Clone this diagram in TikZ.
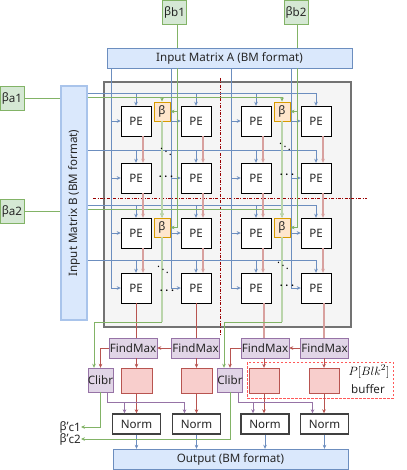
\documentclass[tikz,border=0pt]{standalone}
\usepackage{fontspec}
\setmainfont{Noto Sans}
\usetikzlibrary{arrows.meta,calc}
\definecolor{blfill}{HTML}{DAE8FC}
\definecolor{bldraw}{HTML}{6C8EBF}
\definecolor{blsoft}{HTML}{A9C4EB}
\definecolor{grfill}{HTML}{D5E8D4}
\definecolor{grdraw}{HTML}{82B366}
\definecolor{orfill}{HTML}{FFE6CC}
\definecolor{ordraw}{HTML}{D79B00}
\definecolor{pufill}{HTML}{E1D5E7}
\definecolor{pudraw}{HTML}{9673A6}
\definecolor{rdfill}{HTML}{F8CECC}
\definecolor{rddraw}{HTML}{B85450}
\definecolor{darkred}{HTML}{990000}

\begin{document}
\begin{tikzpicture}[x=1pt,y=-1pt,>={Stealth[length=4pt,width=3.6pt]},
  font=\fontsize{11.6}{13}\selectfont,
  box/.style={draw,inner sep=0pt,text=black!85},
  pe/.style={box,fill=white,minimum width=30,minimum height=30},
  betabox/.style={box,fill=orfill,draw=ordraw,line width=0.9pt,minimum width=16,minimum height=19},
  gbox/.style={box,fill=grfill,draw=grdraw,minimum width=24,minimum height=24},
  inbox/.style={box,fill=blfill,draw=bldraw,minimum height=20},
  fmbox/.style={box,fill=pufill,draw=pudraw,minimum width=48,minimum height=20},
  clbox/.style={box,fill=pufill,draw=pudraw,minimum width=25,minimum height=24},
  bufbox/.style={box,fill=rdfill,draw=rddraw,minimum width=30,minimum height=25},
  normbox/.style={box,fill=white,draw=black!75,line width=1.4pt,minimum width=48,minimum height=20},
  bl/.style={draw=bldraw,line width=0.8pt},
  gl/.style={draw=grdraw,line width=0.8pt},
  lg/.style={draw=grdraw!55,line width=2pt},
  rl/.style={draw=rddraw,line width=0.8pt},
  lr/.style={draw=rddraw!55,line width=2pt},
  pl/.style={draw=pudraw,line width=0.8pt},
  dd/.style={draw=darkred,line width=0.9pt,dash pattern=on 3pt off 1.5pt on 0.8pt off 1.5pt},
  dots/.style={inner sep=0pt,font=\fontsize{11}{12}\selectfont\boldmath}]
\useasboundingbox (0,0) rectangle (406,470);

% panel and inputs
\node[box,fill=black!4,draw=black!55,line width=2pt,minimum width=247,minimum height=245] (panel) at (227.5,204.5) {};
\node[inbox,minimum width=245] (inA) at (229.5,58) {Input Matrix A (BM format)};
\node[inbox,draw=blsoft,line width=1.6pt,minimum width=26,minimum height=234] (inB) at (74,203) {};
\node[rotate=90,text=black!85] (inBtxt) at (inB.center) {Input Matrix B (BM format)};
\node[gbox] (bb1) at (174.5,12) {β\raisebox{-.3ex}{b1}};
\node[gbox] (bb2) at (296,12) {β\raisebox{-.3ex}{b2}};
\node[gbox] (ba1) at (12,98) {β\raisebox{-.3ex}{a1}};
\node[gbox] (ba2) at (12,211) {β\raisebox{-.3ex}{a2}};

% PE grid
\foreach \r/\y in {1/121,2/178,3/233,4/288}
  \foreach \c/\x in {1/136,2/196,3/256,4/316}
    \node[pe] (pe\r\c) at (\x,\y) {PE};
\node[betabox] (bt1) at (162,111.5) {β};
\node[betabox] (bt2) at (282,111.5) {β};
\node[betabox] (bt3) at (162,227.5) {β};
\node[betabox] (bt4) at (282,227.5) {β};

% dashed split lines
\coordinate (sv1) at (220,78);
\coordinate (sv2) at (220,335);
\coordinate (sh1) at (93,198);
\coordinate (sh2) at (367,198);
\draw[dd] (sv1) -- (sv2);
\draw[dd] (sh1) -- (sh2);

% A columns
\foreach \c in {1,...,4}{
  \coordinate (va\c) at ($(pe1\c.west)+(-9,0)$);
  \draw[bl,->] (inA.south -| va\c) |- (pe4\c.west);
  \foreach \r in {1,2,3}
    \draw[bl,->] (va\c |- pe\r\c.west) -- (pe\r\c.west);
}
% B rows
\foreach \r in {1,...,4}{
  \coordinate (hb\r) at ($(pe\r1.north)+(0,-12.5)$);
  \draw[bl,->] (inB.east |- hb\r) -| (pe\r4.north);
  \foreach \c in {1,2,3}
    \draw[bl,->] (pe\r\c.north |- hb\r) -- (pe\r\c.north);
}

% beta inputs
\draw[gl] (ba1.east) -- (ba1.east -| inB.west);
\draw[gl] (ba2.east) -- (ba2.east -| inB.west);
\coordinate (hg1) at ($(hb1)+(0,4)$);
\coordinate (hg3) at ($(hb3)+(0,4)$);
\draw[gl,->] (inB.east |- hg1) -| (bt2.north);
\draw[gl,->] (bt1.north |- hg1) -- (bt1.north);
\draw[gl,->] (inB.east |- hg3) -| (bt4.north);
\draw[gl,->] (bt3.north |- hg3) -- (bt3.north);
\coordinate (vg1) at ($(bt1.east)+(6.5,0)$);
\coordinate (vg2) at ($(bt2.east)+(6.5,0)$);
\draw[gl] (bb1.south -| vg1) -- (inA.north -| vg1);
\draw[gl] (bb2.south -| vg2) -- (inA.north -| vg2);
\draw[gl,->] (inA.south -| vg1) |- (bt3.east);
\draw[gl,->] (vg1 |- bt1.east) -- (bt1.east);
\draw[gl,->] (inA.south -| vg2) |- (bt4.east);
\draw[gl,->] (vg2 |- bt2.east) -- (bt2.east);
\draw[lg,->] (bt1.south) -- (bt3.north);
\draw[lg,->] (bt2.south) -- (bt4.north);

% PE to PE
\foreach \c in {1,...,4}
  \foreach \r/\n in {1/2,2/3,3/4}
    \draw[lr,->] ($(pe\r\c.south)+(7,0)$) -- ($(pe\n\c.north)+(7,0)$);

% FindMax, Clibr, buffers, Norm
\node[fmbox] (fm1) at (133,348) {FindMax};
\node[fmbox] (fm2) at (195.5,348) {FindMax};
\node[fmbox] (fm3) at (265,348) {FindMax};
\node[fmbox] (fm4) at (324.5,348) {FindMax};
\node[clbox] (cl1) at (100.5,380) {Clibr};
\node[clbox] (cl2) at (230,380) {Clibr};
\node[box,draw=red!65,dash pattern=on 2.5pt off 1.5pt,line width=0.8pt,minimum width=146,minimum height=36] (bufgrp) at (320,380) {};
\node[bufbox,minimum width=31] (bf1) at (136.5,380.5) {};
\node[bufbox,minimum width=31] (bf2) at (196.5,380.5) {};
\node[bufbox] (bf3) at (264,380.5) {};
\node[bufbox] (bf4) at (324,380.5) {};
\node[inner sep=0pt,font=\fontsize{13}{15}\selectfont] (blk) at (369,371.5) {$P[Blk^2]$};
\node[inner sep=0pt,text=black!85] (buflab) at (368,389.5) {buffer};
\node[normbox] (nm1) at (136.5,424) {Norm};
\node[normbox] (nm2) at (196.5,424) {Norm};
\node[normbox] (nm3) at (265,424) {Norm};
\node[normbox] (nm4) at (324.5,424) {Norm};
\node[inbox,minimum width=235] (out) at (230.5,459) {Output (BM format)};
\node[inner sep=0pt,anchor=east,text=black!85] (c1lab) at (81,427) {β'\raisebox{-.3ex}{c1}};
\node[inner sep=0pt,anchor=east,text=black!85] (c2lab) at (81,439) {β'\raisebox{-.3ex}{c2}};

% into FindMax
\draw[rl] (pe41.south) -- (pe41.south |- fm1.north);
\draw[rl] (pe42.south) -- (pe42.south |- fm2.north);
\coordinate (rd3) at ($(pe43.south)+(7.5,0)$);
\coordinate (rd4) at ($(pe44.south)+(7.5,0)$);
\draw[lr] (rd3) -- (rd3 |- fm3.north);
\draw[lr] (rd4) -- (rd4 |- fm4.north);
\draw[rl,->] (fm2.west) -- (fm1.east);
\draw[rl,->] (fm4.west) -- (fm3.east);
\draw[rl,->] (fm1.west) -| (cl1.north);
\draw[rl,->] (fm3.west) -| (cl2.north);
\foreach \i in {1,...,4}{
  \draw[rl,->] (fm\i.south -| bf\i.north) -- (bf\i.north);
  \draw[rl,->] (bf\i.south) -- (bf\i.south |- nm\i.north);
  \draw[bl,->] (nm\i.south) -- (nm\i.south |- out.north);
}

% beta feedback to Clibr
\coordinate (gk1) at ($(bt3.south)+(0,85)$);
\coordinate (gk2) at ($(bt4.south)+(0,85)$);
\draw[lg] (bt3.south) -- (gk1);
\draw[lg] (bt4.south) -- (gk2);
\draw[gl,->] (gk1) -| ($(cl1.north)+(-6.5,0)$);
\draw[gl,->] (gk2) -| ($(cl2.north)+(-6,0)$);

% Clibr outputs
\draw[pl,->] ($(cl1.south)+(7,0)$) |- ($(nm2.north)+(-12,-11)$) -- ($(nm2.north)+(-12,0)$);
\draw[pl,->] ($(nm1.north)+(-12,-11)$) -- ($(nm1.north)+(-12,0)$);
\draw[pl,->] ($(cl2.south)+(8,0)$) |- ($(nm4.north)+(-12,-11)$) -- ($(nm4.north)+(-12,0)$);
\draw[pl,->] ($(nm3.north)+(-12,-11)$) -- ($(nm3.north)+(-12,0)$);
\draw[gl,->] (cl1.south) |- (c1lab.east);
\draw[gl,->] (cl2.south) |- (c2lab.east);

% dots
\node[dots] (dg1) at (166,149) {$\ddots$};
\node[dots] (dg2) at (285,144) {$\ddots$};
\node[dots] (dg3) at (163,267) {$\ddots$};
\node[dots] (dg4) at (283,263) {$\ddots$};
\node[dots] (dh1) at (166,177) {$\cdots$};
\node[dots] (dh2) at (287,175) {$\cdots$};
\node[dots] (dh3) at (167,291) {$\cdots$};
\node[dots] (dh4) at (287,286) {$\cdots$};
\end{tikzpicture}
\end{document}
